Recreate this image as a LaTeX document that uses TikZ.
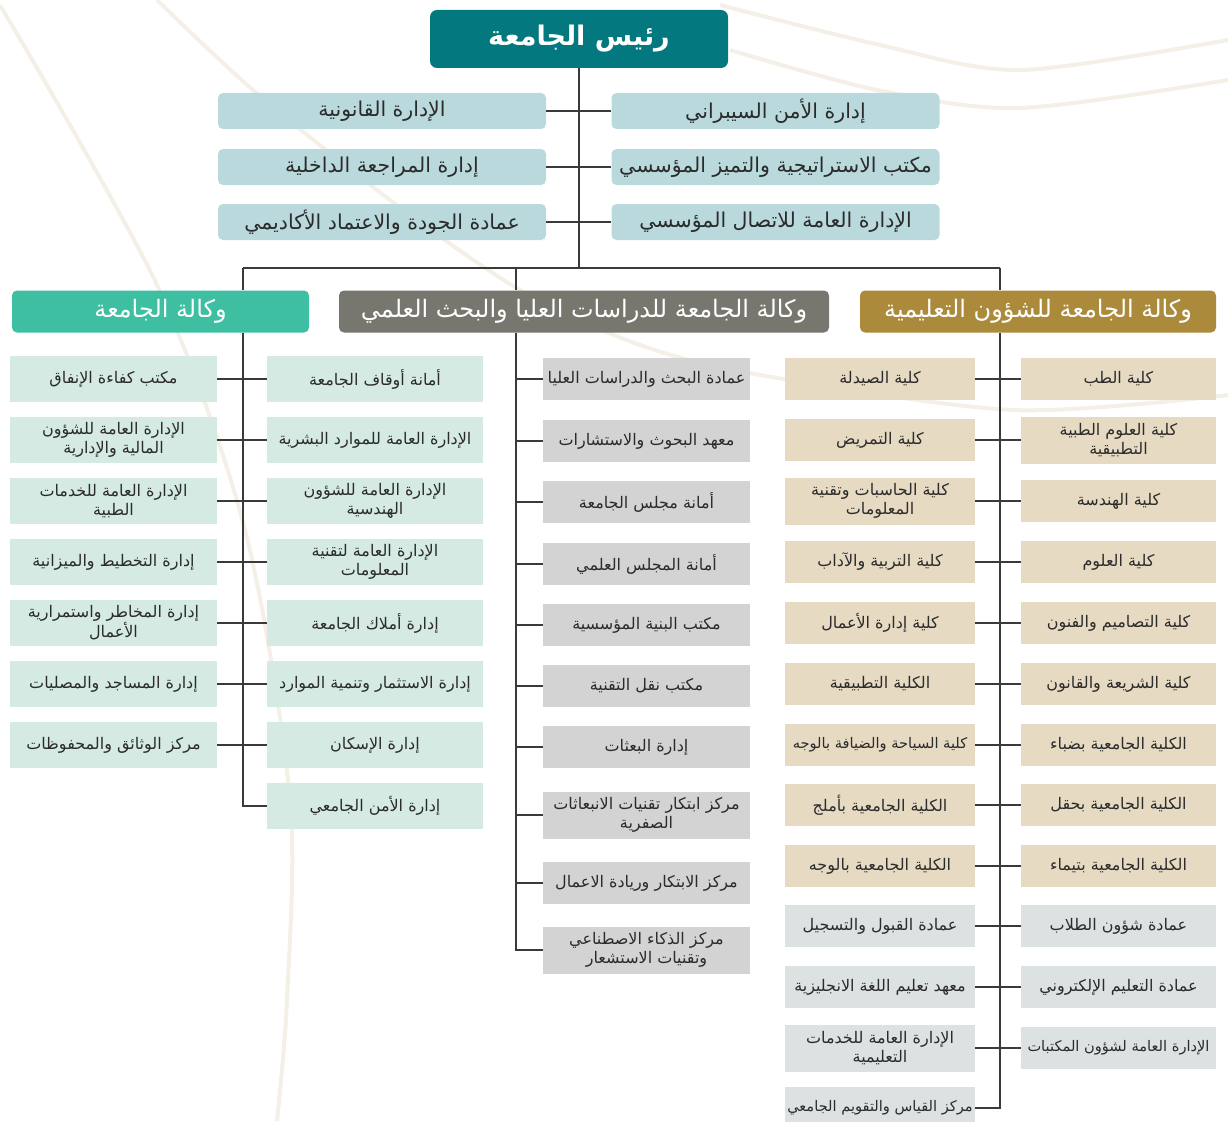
\documentclass[tikz,border=0pt]{standalone}
\usepackage{fontspec}
\newfontfamily\arabicfont[Script=Arabic]{DejaVu Sans}
\TeXXeTstate=1
\usepackage{tikz}
\definecolor{rectorcol}{HTML}{03787F}
\definecolor{staffcol}{HTML}{BAD9DC}
\definecolor{vrcol}{HTML}{3EBFA2}
\definecolor{gscol}{HTML}{77776F}
\definecolor{eacol}{HTML}{AB8A3B}
\definecolor{vrbox}{HTML}{D4EAE2}
\definecolor{gsbox}{HTML}{D3D3D3}
\definecolor{eabox}{HTML}{E6DAC2}
\definecolor{svbox}{HTML}{DCE1E1}
\definecolor{linecol}{HTML}{3A3A3A}
\definecolor{decocol}{HTML}{F5F0E7}
\definecolor{textcol}{HTML}{2B2B2B}
\newcommand{\arb}[1]{\beginR#1\endR}
\tikzset{
    unitbox/.style={inner sep=1pt, align=center, text=textcol,
        font=\arabicfont\fontsize{16}{19}\selectfont, minimum height=42pt},
    tall/.style={minimum height=47pt},
    tight/.style={font=\arabicfont\fontsize{14.6}{18}\selectfont},
    vabox/.style={unitbox, fill=vrbox, minimum width=207pt, minimum height=46pt},
    vbbox/.style={unitbox, fill=vrbox, minimum width=216pt, minimum height=46pt},
    grbox/.style={unitbox, fill=gsbox, minimum width=207pt},
    cabox/.style={unitbox, fill=eabox, minimum width=190pt},
    cbbox/.style={unitbox, fill=eabox, minimum width=195pt},
    rector/.style={fill=rectorcol, rounded corners=7pt, text=white,
        minimum width=298pt, minimum height=58pt,
        font=\arabicfont\bfseries\fontsize{27}{31}\selectfont},
    staff/.style={fill=staffcol, rounded corners=5pt, text=textcol,
        minimum width=328pt, minimum height=36pt,
        font=\arabicfont\fontsize{20.5}{24}\selectfont},
    head/.style={rounded corners=5pt, text=white, minimum height=42pt,
        font=\arabicfont\fontsize{24}{28}\selectfont},
    link/.style={draw=linecol, line width=1.4pt},
    deco/.style={draw=decocol, line width=4pt}
}
\begin{document}
\begin{tikzpicture}[x=1pt,y=-1pt]
\useasboundingbox (0,0) rectangle (1228,1121);
\draw[deco] plot[smooth] coordinates {(0,5) (157,285) (245,530) (290,800) (287,1000) (277,1121)};
\draw[deco] plot[smooth] coordinates {(157,0) (253,90) (390,200) (520,290) (640,345) (760,375) (1013,410) (1228,395)};
\draw[deco] plot[smooth] coordinates {(720,5) (880,45) (1020,70) (1228,40)};
\draw[deco] plot[smooth] coordinates {(730,50) (877,90) (1020,108) (1228,80)};

\node[rector] (rector) at (579,39) {\arb{رئيس الجامعة}};

\node[staff] (s1) at (382,111) {\arb{الإدارة القانونية}};
\node[staff] (s2) at (382,167) {\arb{إدارة المراجعة الداخلية}};
\node[staff] (s3) at (382,222) {\arb{عمادة الجودة والاعتماد الأكاديمي}};
\node[staff] (s4) at (775.5,111) {\arb{إدارة الأمن السيبراني}};
\node[staff] (s5) at (775.5,167) {\arb{مكتب الاستراتيجية والتميز المؤسسي}};
\node[staff] (s6) at (775.5,222) {\arb{الإدارة العامة للاتصال المؤسسي}};

\node[head, fill=vrcol, minimum width=297pt] (vrhead) at (160.5,311.5) {\arb{وكالة الجامعة}};
\node[head, fill=gscol, minimum width=490pt] (gshead) at (584,311.5) {\arb{وكالة الجامعة للدراسات العليا والبحث العلمي}};
\node[head, fill=eacol, minimum width=356pt] (eahead) at (1038,311.5) {\arb{وكالة الجامعة للشؤون التعليمية}};

\node[vabox] (va1) at (113.5,379) {\arb{مكتب كفاءة الإنفاق}};
\node[vabox] (va2) at (113.5,440) {\arb{الإدارة العامة للشؤون}\\\arb{المالية والإدارية}};
\node[vabox] (va3) at (113.5,501) {\arb{الإدارة العامة للخدمات}\\\arb{الطبية}};
\node[vabox] (va4) at (113.5,562) {\arb{إدارة التخطيط والميزانية}};
\node[vabox] (va5) at (113.5,623) {\arb{إدارة المخاطر واستمرارية}\\\arb{الأعمال}};
\node[vabox] (va6) at (113.5,684) {\arb{إدارة المساجد والمصليات}};
\node[vabox] (va7) at (113.5,745) {\arb{مركز الوثائق والمحفوظات}};

\node[vbbox] (vb1) at (375,379) {\arb{أمانة أوقاف الجامعة}};
\node[vbbox] (vb2) at (375,440) {\arb{الإدارة العامة للموارد البشرية}};
\node[vbbox] (vb3) at (375,501) {\arb{الإدارة العامة للشؤون}\\\arb{الهندسية}};
\node[vbbox] (vb4) at (375,562) {\arb{الإدارة العامة لتقنية}\\\arb{المعلومات}};
\node[vbbox] (vb5) at (375,623) {\arb{إدارة أملاك الجامعة}};
\node[vbbox] (vb6) at (375,684) {\arb{إدارة الاستثمار وتنمية الموارد}};
\node[vbbox] (vb7) at (375,745) {\arb{إدارة الإسكان}};
\node[vbbox] (vb8) at (375,806) {\arb{إدارة الأمن الجامعي}};

\node[grbox] (gr1) at (646.5,379) {\arb{عمادة البحث والدراسات العليا}};
\node[grbox] (gr2) at (646.5,441) {\arb{معهد البحوث والاستشارات}};
\node[grbox] (gr3) at (646.5,502) {\arb{أمانة مجلس الجامعة}};
\node[grbox] (gr4) at (646.5,564) {\arb{أمانة المجلس العلمي}};
\node[grbox] (gr5) at (646.5,625) {\arb{مكتب البنية المؤسسية}};
\node[grbox] (gr6) at (646.5,686) {\arb{مكتب نقل التقنية}};
\node[grbox] (gr7) at (646.5,747) {\arb{إدارة البعثات}};
\node[grbox, tall] (gr8) at (646.5,815) {\arb{مركز ابتكار تقنيات الانبعاثات}\\\arb{الصفرية}};
\node[grbox] (gr9) at (646.5,883) {\arb{مركز الابتكار وريادة الاعمال}};
\node[grbox, tall] (gr10) at (646.5,950) {\arb{مركز الذكاء الاصطناعي}\\\arb{وتقنيات الاستشعار}};

\node[cabox] (ca1) at (880,379) {\arb{كلية الصيدلة}};
\node[cabox] (ca2) at (880,440) {\arb{كلية التمريض}};
\node[cabox, tall] (ca3) at (880,501) {\arb{كلية الحاسبات وتقنية}\\\arb{المعلومات}};
\node[cabox] (ca4) at (880,562) {\arb{كلية التربية والآداب}};
\node[cabox] (ca5) at (880,623) {\arb{كلية إدارة الأعمال}};
\node[cabox] (ca6) at (880,684) {\arb{الكلية التطبيقية}};
\node[cabox, tight] (ca7) at (880,745) {\arb{كلية السياحة والضيافة بالوجه}};
\node[cabox] (ca8) at (880,805) {\arb{الكلية الجامعية بأملج}};
\node[cabox] (ca9) at (880,866) {\arb{الكلية الجامعية بالوجه}};
\node[cabox, fill=svbox] (ca10) at (880,926) {\arb{عمادة القبول والتسجيل}};
\node[cabox, fill=svbox] (ca11) at (880,987) {\arb{معهد تعليم اللغة الانجليزية}};
\node[cabox, fill=svbox, tall] (ca12) at (880,1048) {\arb{الإدارة العامة للخدمات}\\\arb{التعليمية}};
\node[cabox, fill=svbox, tight] (ca13) at (880,1108) {\arb{مركز القياس والتقويم الجامعي}};

\node[cbbox] (cb1) at (1118.5,379) {\arb{كلية الطب}};
\node[cbbox, tall] (cb2) at (1118.5,440) {\arb{كلية العلوم الطبية}\\\arb{التطبيقية}};
\node[cbbox] (cb3) at (1118.5,501) {\arb{كلية الهندسة}};
\node[cbbox] (cb4) at (1118.5,562) {\arb{كلية العلوم}};
\node[cbbox] (cb5) at (1118.5,623) {\arb{كلية التصاميم والفنون}};
\node[cbbox] (cb6) at (1118.5,684) {\arb{كلية الشريعة والقانون}};
\node[cbbox] (cb7) at (1118.5,745) {\arb{الكلية الجامعية بضباء}};
\node[cbbox] (cb8) at (1118.5,805) {\arb{الكلية الجامعية بحقل}};
\node[cbbox] (cb9) at (1118.5,866) {\arb{الكلية الجامعية بتيماء}};
\node[cbbox, fill=svbox] (cb10) at (1118.5,926) {\arb{عمادة شؤون الطلاب}};
\node[cbbox, fill=svbox] (cb11) at (1118.5,987) {\arb{عمادة التعليم الإلكتروني}};
\node[cbbox, fill=svbox, tight] (cb12) at (1118.5,1048) {\arb{الإدارة العامة لشؤون المكتبات}};

\coordinate (bus) at (579,268);
\coordinate (vrdrop) at (243,268);
\coordinate (gsdrop) at (516,268);
\coordinate (eadrop) at (1000,268);
\draw[link] (rector.south) -- (bus);
\draw[link] (s1.east) -- (s4.west);
\draw[link] (s2.east) -- (s5.west);
\draw[link] (s3.east) -- (s6.west);
\draw[link] (vrdrop) -- (eadrop);
\draw[link] (vrdrop) -- (vrdrop |- vrhead.north);
\draw[link] (gsdrop) -- (gsdrop |- gshead.north);
\draw[link] (eadrop) -- (eadrop |- eahead.north);

\draw[link] (vrdrop |- vrhead.south) |- (vb8.west);
\draw[link] (va1.east) -- (vb1.west);
\draw[link] (va2.east) -- (vb2.west);
\draw[link] (va3.east) -- (vb3.west);
\draw[link] (va4.east) -- (vb4.west);
\draw[link] (va5.east) -- (vb5.west);
\draw[link] (va6.east) -- (vb6.west);
\draw[link] (va7.east) -- (vb7.west);

\draw[link] (gsdrop |- gshead.south) |- (gr10.west);
\draw[link] (gsdrop |- gr1) -- (gr1.west);
\draw[link] (gsdrop |- gr2) -- (gr2.west);
\draw[link] (gsdrop |- gr3) -- (gr3.west);
\draw[link] (gsdrop |- gr4) -- (gr4.west);
\draw[link] (gsdrop |- gr5) -- (gr5.west);
\draw[link] (gsdrop |- gr6) -- (gr6.west);
\draw[link] (gsdrop |- gr7) -- (gr7.west);
\draw[link] (gsdrop |- gr8) -- (gr8.west);
\draw[link] (gsdrop |- gr9) -- (gr9.west);

\draw[link] (eadrop |- eahead.south) |- (ca13.east);
\draw[link] (ca1.east) -- (cb1.west);
\draw[link] (ca2.east) -- (cb2.west);
\draw[link] (ca3.east) -- (cb3.west);
\draw[link] (ca4.east) -- (cb4.west);
\draw[link] (ca5.east) -- (cb5.west);
\draw[link] (ca6.east) -- (cb6.west);
\draw[link] (ca7.east) -- (cb7.west);
\draw[link] (ca8.east) -- (cb8.west);
\draw[link] (ca9.east) -- (cb9.west);
\draw[link] (ca10.east) -- (cb10.west);
\draw[link] (ca11.east) -- (cb11.west);
\draw[link] (ca12.east) -- (cb12.west);
\end{tikzpicture}
\end{document}
